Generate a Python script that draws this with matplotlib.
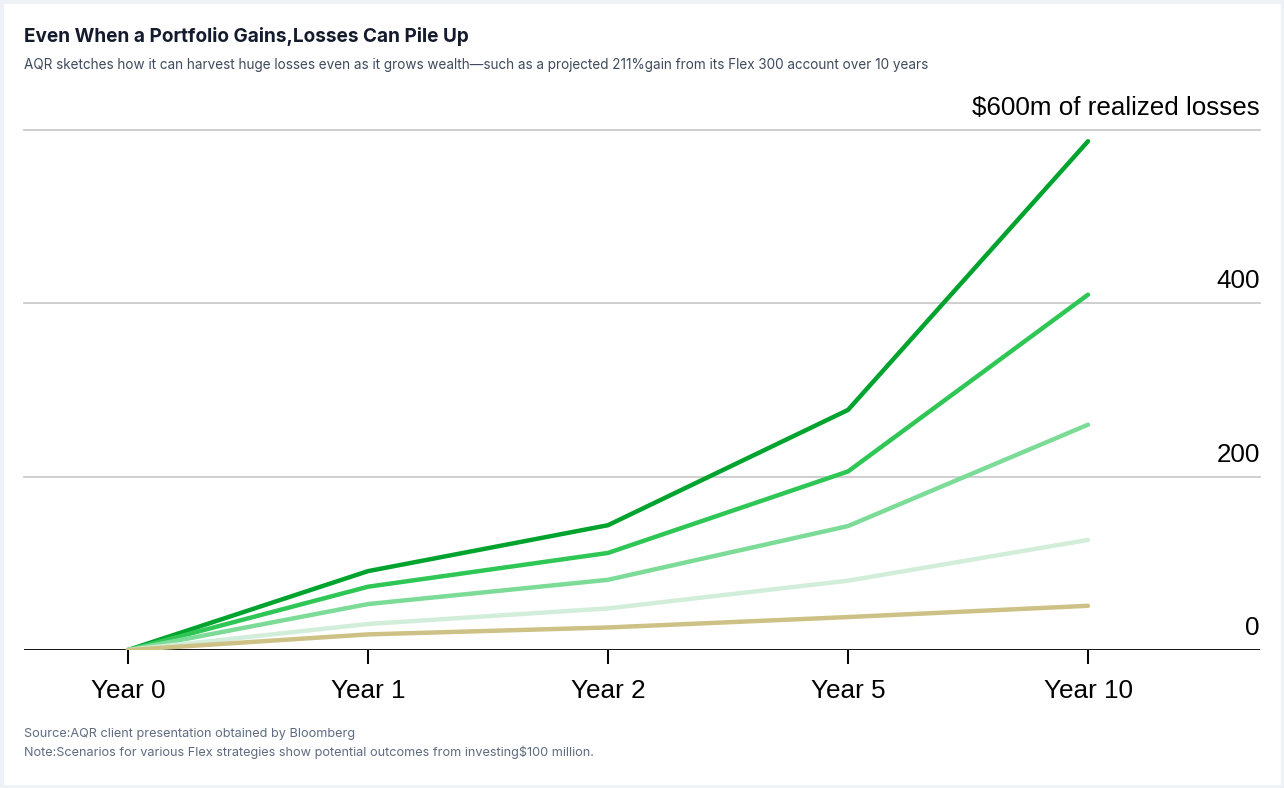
import matplotlib.pyplot as plt
from matplotlib.patches import Rectangle

# Data ($m of realized losses)
years = ['Year 0', 'Year 1', 'Year 2', 'Year 5', 'Year 10']
flex_a = [0, 91, 144, 277, 587]
flex_b = [0, 73, 112, 206, 410]
flex_c = [0, 53, 81, 143, 260]
flex_d = [0, 30, 48, 80, 127]
flex_e = [0, 18, 26, 38, 51]
y_ticks = [0, 200, 400, 600]
y_tick_labels = ['0', '200', '400', '$600m of realized losses']

series = [flex_a, flex_b, flex_c, flex_d, flex_e]
colors = ['#00a32e', '#2ec655', '#7cdc97', '#d2eedb', '#cdc185']

plt.rcParams['font.family'] = ['Liberation Sans', 'DejaVu Sans']

W, H = 1284, 788
fig = plt.figure(figsize=(W / 100, H / 100), dpi=100)

# light frame around the card
fig.patches.append(Rectangle((0, 0), 1, 1, transform=fig.transFigure,
                             facecolor='none', edgecolor='#eef2f6', linewidth=5))

ax = fig.add_axes([24 / W, (H - 650) / H, (1260 - 24) / W, (650 - 130) / H])
x = list(range(len(years)))

for vals, c in zip(series, colors):
    ax.plot(x, vals, color=c, linewidth=3.2, solid_capstyle='round',
            solid_joinstyle='round', zorder=3)

ax.set_xlim(-104 / 240, 4 + 172 / 240)
ax.set_ylim(0, 600)

for v in y_ticks[1:]:
    ax.axhline(v, color='#cccccc', linewidth=1.3, zorder=1, clip_on=False)
ax.axhline(0, color='black', linewidth=2.0, zorder=2)

for v, lab in zip(y_ticks, y_tick_labels):
    ax.text(1.0, v + 11.5, lab, transform=ax.get_yaxis_transform(), ha='right',
            va='bottom', fontsize=18.7, color='black')

for s in ax.spines.values():
    s.set_visible(False)
ax.set_yticks([])
ax.set_xticks(x)
ax.set_xticklabels(years, fontsize=18.8)
ax.tick_params(axis='x', length=10, width=1.4, color='black', pad=11)

fig.text(24 / W, 1 - 36 / H, 'Even When a Portfolio Gains,Losses Can Pile Up',
         fontsize=13.7, fontweight='bold', color='#141b2d', family=['Inter', 'DejaVu Sans'],
         va='center')
fig.text(24 / W, 1 - 65 / H,
         'AQR sketches how it can harvest huge losses even as it grows wealth\u2014such as a projected 211%gain from its Flex 300 account over 10 years',
         fontsize=9.75, color='#3f4a5c', family=['Inter', 'DejaVu Sans'], va='center')
fig.text(24 / W, 1 - 734 / H, 'Source:AQR client presentation obtained by Bloomberg',
         fontsize=9.15, color='#5e6b80', family=['Inter', 'DejaVu Sans'], va='center')
fig.text(24 / W, 1 - 752 / H,
         'Note:Scenarios for various Flex strategies show potential outcomes from investing$100 million.',
         fontsize=9.15, color='#5e6b80', family=['Inter', 'DejaVu Sans'], va='center')

fig.savefig('out.png', dpi=100)
